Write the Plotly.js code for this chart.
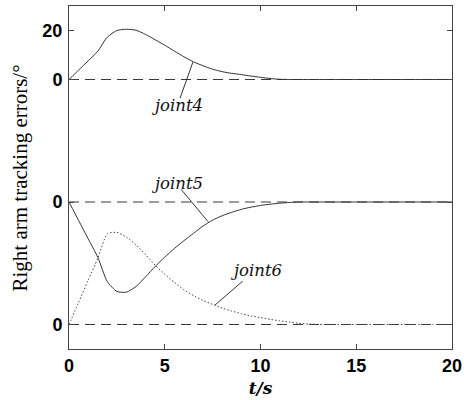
<!DOCTYPE html>
<html>
<head>
<meta charset="utf-8">
<script src="https://cdn.plot.ly/plotly-3.0.1.min.js"></script>
<style>html,body{margin:0;padding:0;background:#fff;}#chart{width:464px;height:400px;}</style>
</head>
<body>
<div id="chart"></div>
<script>
// time samples (s)
const t = [0,0.5,1,1.5,2,2.5,3,3.5,4,4.5,5,5.5,6,6.5,7,7.5,8,8.5,9,9.5,10,10.5,11,11.5,12,12.5,13,14,15,16,17,18,19,20];
// tracking errors (deg)
const joint4 = [0,3.8,7.6,11.5,17.3,20,20.5,20.1,18.4,16.2,14,11.6,9.3,7.2,5.6,4.2,3.2,2.5,2.0,1.4,0.9,0.4,0.1,0,0,0,0,0,0,0,0,0,0,0];
const joint5 = [0,-7.5,-15,-22.5,-32.5,-36.5,-36.8,-34.5,-30.5,-26.3,-22.5,-19,-15.8,-12.8,-9.8,-7.4,-5.6,-4.2,-3.0,-2.1,-1.4,-0.9,-0.5,-0.2,0,0,0,0,0,0,0,0,0,0];
const joint6 = [0,9,18,27,37,37.6,35.7,32.5,28.5,24.2,20.5,17.2,14.2,11.8,9.8,8.2,6.7,5.5,4.4,3.5,2.8,2.1,1.5,1.0,0.5,0.2,0.05,0,0,0,0,0,0,0];
// vertical stacking offsets of each joint panel
const offsets = {joint4: 0, joint5: -50, joint6: -100};
const yTickVals = [-100, -50, 0, 20];
const yTickText = ['0', '0', '0', '20'];
const xTickVals = [0, 5, 10, 15, 20];
const names = ['joint4', 'joint5', 'joint6'];

const shift = (arr, o) => arr.map(v => v + o);
const lineCol = '#333';
const traces = [];
// reference (zero) lines
[offsets.joint4, offsets.joint5, offsets.joint6].forEach(o => {
  traces.push({x: [0, 20], y: [o, o], mode: 'lines', line: {color: '#3a3a3a', width: 1.2, dash: '10px,6px'}, hoverinfo: 'skip'});
});
traces.push({x: t, y: shift(joint4, offsets.joint4), mode: 'lines', line: {color: lineCol, width: 1, shape: 'spline', smoothing: 0.6}});
traces.push({x: t, y: shift(joint5, offsets.joint5), mode: 'lines', line: {color: lineCol, width: 1, shape: 'spline', smoothing: 0.6}});
traces.push({x: t, y: shift(joint6, offsets.joint6), mode: 'lines', line: {color: '#444', width: 1, dash: '1.5px,2px', shape: 'spline', smoothing: 0.6}});

const labelFont = {family: 'DejaVu Serif', size: 16.5, color: '#111', style: 'italic'};
const ann = (text, x, y) => ({text: text, x: x, y: y, xref: 'x', yref: 'y', showarrow: false, font: labelFont, xanchor: 'center', yanchor: 'middle'});
const leader = (x0, y0, x1, y1) => ({type: 'line', xref: 'x', yref: 'y', x0: x0, y0: y0, x1: x1, y1: y1, line: {color: '#333', width: 1}});

const layout = {
  width: 464, height: 400,
  margin: {l: 69, r: 12, t: 6, b: 51},
  paper_bgcolor: '#fff', plot_bgcolor: '#fff',
  showlegend: false,
  xaxis: {
    range: [0, 20], tickvals: xTickVals, ticktext: xTickVals.map(String),
    ticks: 'inside', ticklen: 5, tickcolor: '#444', mirror: 'ticks',
    showline: true, linecolor: '#444', linewidth: 1, showgrid: false, zeroline: false,
    tickfont: {family: 'Liberation Sans', size: 18, color: '#000', weight: 'bold'},
    title: {text: 't/s', font: {family: 'DejaVu Serif', size: 17, color: '#000', style: 'italic', weight: 'bold'}, standoff: 7}
  },
  yaxis: {
    range: [-110, 30], tickvals: yTickVals, ticktext: yTickText,
    ticks: 'inside', ticklen: 5, tickcolor: '#444', mirror: 'ticks',
    showline: true, linecolor: '#444', linewidth: 1, showgrid: false, zeroline: false,
    tickfont: {family: 'Liberation Sans', size: 18, color: '#000', weight: 'bold'},
    ticklabelstandoff: 2
  },
  annotations: [
    ann(names[0], 5.64, -10.5),
    ann(names[1], 5.64, -42.3),
    ann(names[2], 9.77, -77.8),
    {text: 'Right arm tracking errors/°', xref: 'paper', yref: 'paper', x: -0.128, y: 0.5, showarrow: false, textangle: -90,
     xanchor: 'center', yanchor: 'middle', font: {family: 'Liberation Serif', size: 21, color: '#000'}}
  ],
  shapes: [
    leader(5.8, -7.6, 6.47, 7.1),
    leader(5.85, -44.8, 7.26, -58.0),
    leader(9.07, -82.3, 7.62, -92.1)
  ]
};
Plotly.newPlot('chart', traces, layout, {staticPlot: true, displayModeBar: false});
</script>
</body>
</html>
